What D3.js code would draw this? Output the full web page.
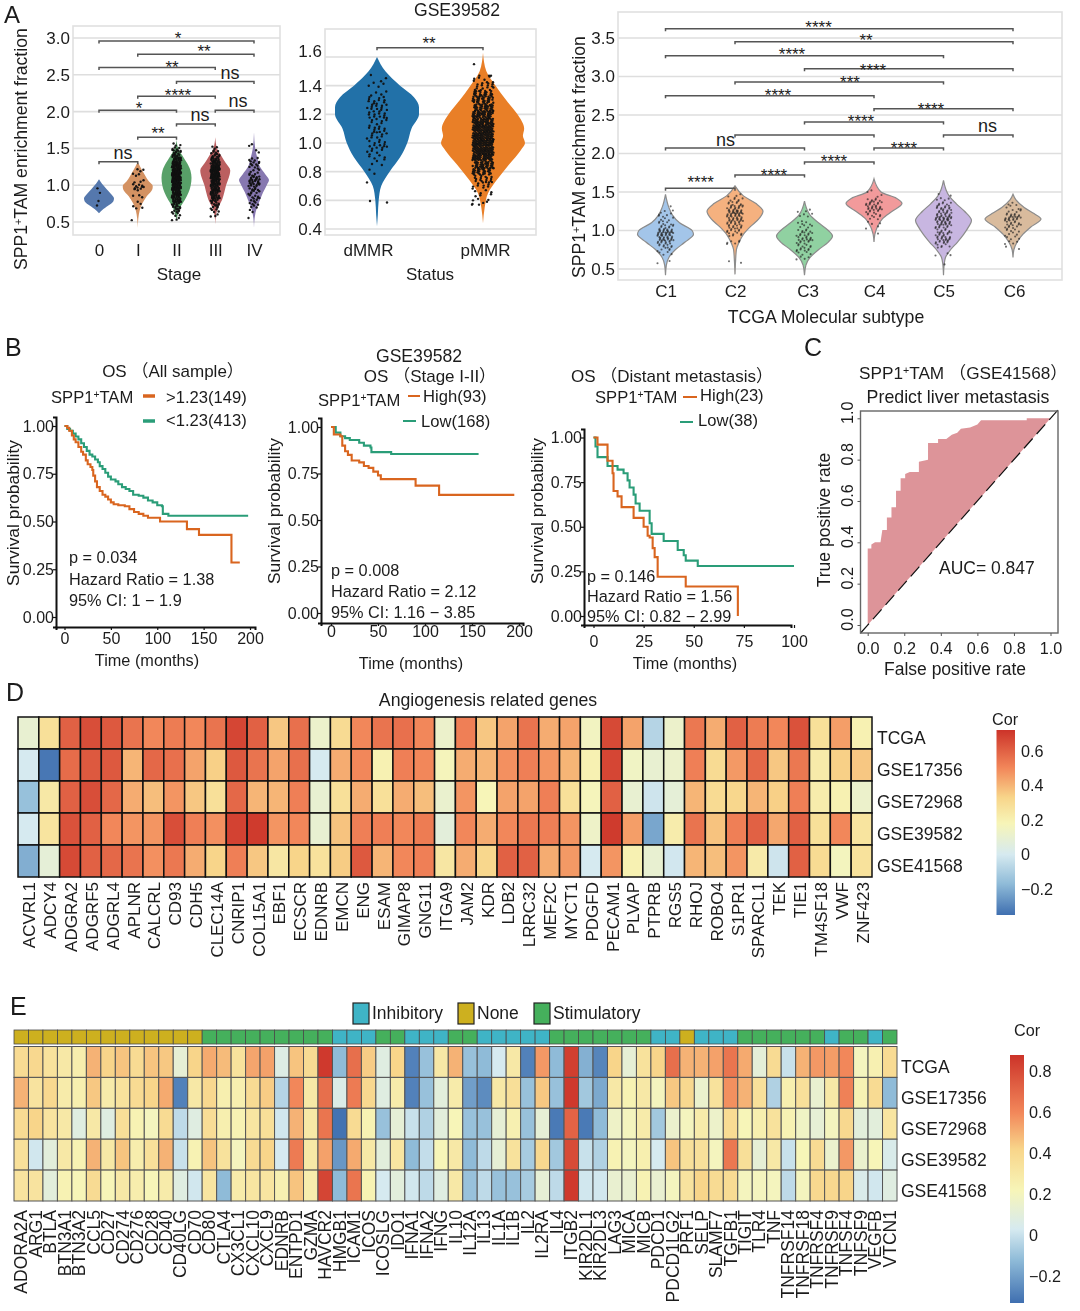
<!DOCTYPE html>
<html><head><meta charset="utf-8">
<script src="https://cdn.jsdelivr.net/npm/d3@7"></script>
<style>
html,body{margin:0;padding:0;background:#fff}
svg{display:block;filter:blur(.35px)}
text{font-family:"Liberation Sans","Noto Sans CJK SC",sans-serif;fill:#1c1c1c}
</style></head><body><svg id="c" width="1080" height="1311"></svg>
<script>
// ---------- Panel A data ----------
const stageCats=["0","I","II","III","IV"];
const stageColors=["#5578ad","#d49262","#58a068","#bb5f60","#8778b0"];
const stageProfiles=[
 [[.62,0],[.66,.2],[.72,.6],[.78,.95],[.82,1],[.88,.8],[.95,.5],[1.02,.2],[1.08,0]],
 [[.42,0],[.55,.04],[.65,.12],[.75,.3],[.85,.6],[.95,.98],[.99,1],[1.05,.75],[1.13,.5],[1.2,.3],[1.32,0]],
 [[.52,0],[.6,.08],[.7,.25],[.8,.55],[.9,.8],[1,.95],[1.1,1],[1.2,.93],[1.3,.7],[1.4,.4],[1.5,.12],[1.62,0]],
 [[.47,0],[.6,.05],[.7,.2],[.8,.45],[.9,.6],[1,.72],[1.1,.9],[1.2,1],[1.3,.7],[1.4,.4],[1.5,.12],[1.65,0]],
 [[.42,0],[.55,.04],[.7,.2],[.8,.4],[.9,.6],[1,.85],[1.07,1],[1.15,.75],[1.25,.4],[1.35,.25],[1.5,.08],[1.72,0]]];
const stageBins=[
 [[.75,1],[.8,1],[.9,1],[.95,1]],
 [[.55,1],[.7,3],[.75,2],[.85,3],[.95,6],[1,5],[1.05,3],[1.15,3],[1.2,3]],
 [[.55,3],[.6,4],[.65,6],[.7,8],[.75,10],[.8,14],[.85,16],[.9,18],[.95,20],[1,22],[1.05,24],[1.1,26],[1.15,26],[1.2,24],[1.25,20],[1.3,18],[1.35,14],[1.4,10],[1.45,8],[1.5,5],[1.55,3]],
 [[.6,3],[.65,4],[.7,5],[.75,7],[.8,10],[.85,12],[.9,14],[.95,14],[1,16],[1.05,18],[1.1,22],[1.15,24],[1.2,26],[1.25,22],[1.3,16],[1.35,12],[1.4,8],[1.45,5],[1.5,3]],
 [[.58,1],[.65,2],[.7,3],[.75,4],[.8,5],[.85,5],[.9,6],[.95,6],[1,9],[1.05,11],[1.1,9],[1.15,5],[1.2,3],[1.25,5],[1.3,6],[1.35,4],[1.45,2],[1.55,2]]];
const stageJitter=[2,6,4.5,4.5,5.5];
const stageBrackets=[[0,4,2.96,"*"],[1,4,2.78,"**"],[0,3,2.60,"**"],[2,4,2.41,"ns"],[1,3,2.21,"****"],[0,2,2.02,"*"],[3,4,2.02,"ns"],[2,3,1.83,"ns"],[1,2,1.65,"**"],[0,1,1.32,"ns"]];
const stageTicks=[.5,1,1.5,2,2.5,3];

const statusCats=["dMMR","pMMR"];
const statusColors=["#2271a8","#e97f27"];
const statusProfiles=[
 [[.42,0],[.5,.02],[.6,.04],[.7,.1],[.8,.3],[.9,.55],[1,.72],[1.1,.82],[1.2,1],[1.25,1],[1.32,.88],[1.4,.55],[1.5,.2],[1.6,0]],
 [[.44,0],[.55,.04],[.65,.12],[.75,.35],[.85,.62],[.95,.9],[1,1],[1.05,.95],[1.1,.98],[1.2,.82],[1.3,.55],[1.4,.3],[1.5,.08],[1.63,0]]];
const statusBins=[
 [[.75,1],[.8,2],[.85,3],[.9,6],[.95,8],[1,10],[1.05,9],[1.1,10],[1.15,8],[1.2,12],[1.25,12],[1.3,10],[1.35,4],[1.4,4],[1.45,3]],
 [[.6,4],[.65,7],[.7,10],[.75,16],[.8,28],[.85,36],[.9,44],[.95,50],[1,54],[1.05,52],[1.1,50],[1.15,46],[1.2,40],[1.25,34],[1.3,30],[1.35,24],[1.4,14],[1.45,6]]];
const statusOutliers=[[[.595,-7],[.585,10]],[[1.55,-9],[1.47,8],[1.47,6],[.6,-10],[.57,-11],[.57,-4],[.59,4]]];
const statusBrackets=[[0,1,1.665,"**"]];
const statusTicks=[.4,.6,.8,1,1.2,1.4,1.6];

const subtypeCats=["C1","C2","C3","C4","C5","C6"];
const subtypeColors=["#a3c5e9","#f5b17f","#90d1a1","#f29a9b","#c8b6e1","#d9bb9d"];
const subtypeProfiles=[
 [[.42,0],[.55,.03],[.65,.12],[.75,.35],[.85,.7],[.95,1],[1,.95],[1.1,.5],[1.2,.25],[1.3,.12],[1.47,0]],
 [[.43,0],[.6,.02],[.75,.05],[.85,.15],[.95,.3],[1.05,.55],[1.15,.85],[1.25,1],[1.35,.75],[1.45,.3],[1.58,0]],
 [[.42,0],[.55,.05],[.65,.2],[.75,.5],[.85,.85],[.93,1],[1,.85],[1.1,.5],[1.2,.2],[1.38,0]],
 [[.85,0],[.95,.03],[1.05,.12],[1.15,.3],[1.25,.65],[1.35,1],[1.42,.8],[1.5,.25],[1.67,0]],
 [[.42,0],[.55,.02],[.65,.07],[.75,.25],[.85,.5],[.95,.72],[1.05,.9],[1.13,1],[1.25,.75],[1.35,.45],[1.45,.2],[1.65,0]],
 [[.65,0],[.75,.03],[.85,.15],[.95,.35],[1.05,.65],[1.15,1],[1.22,.75],[1.3,.4],[1.4,.1],[1.47,0]]];
const subtypeBins=[
 [[.6,2],[.7,4],[.75,5],[.8,8],[.85,12],[.9,16],[.95,18],[1,16],[1.05,8],[1.1,6],[1.15,4],[1.2,5],[1.25,3],[1.3,1]],
 [[.85,6],[.95,7],[1,8],[1.05,10],[1.1,12],[1.15,14],[1.2,16],[1.25,18],[1.3,12],[1.35,8],[1.4,6],[1.45,3]],
 [[.65,4],[.7,4],[.75,8],[.8,6],[.85,8],[.9,10],[.95,8],[1,6],[1.05,4],[1.1,5],[1.2,4],[1.25,3]],
 [[1.05,2],[1.1,3],[1.15,3],[1.2,6],[1.25,8],[1.3,12],[1.35,10],[1.4,6],[1.45,2],[1.5,2]],
 [[.7,2],[.8,6],[.85,10],[.9,12],[.95,10],[1,8],[1.05,10],[1.1,14],[1.15,18],[1.2,12],[1.25,10],[1.3,10],[1.35,6],[1.4,4],[1.45,2]],
 [[.85,4],[.9,4],[.95,4],[1,5],[1.05,7],[1.1,8],[1.15,14],[1.2,10],[1.25,5],[1.3,3],[1.35,3]]];
const subtypeOutliers=[[],[[.6,-6],[.58,6]],[],[[.96,4]],[[.68,7],[.56,1]],[[.79,-7],[.76,6]]];
const subtypeJitter=[8,8,8,8,8,8];
const subtypeBrackets=[[0,5,3.62,"****"],[1,5,3.45,"**"],[0,4,3.27,"****"],[2,5,3.10,"****"],[1,4,2.93,"***"],[0,3,2.75,"****"],[3,5,2.58,"****"],[2,4,2.41,"****"],[1,3,2.24,""],[4,5,2.24,"ns"],[0,2,2.07,"ns"],[3,4,2.07,"****"],[2,3,1.89,"****"],[1,2,1.72,"****"],[0,1,1.55,"****"]];
const subtypeTicks=[.5,1,1.5,2,2.5,3,3.5];

// ---------- Panel B data (time, survival) ----------
const km1High=[[0,1],[3,.99],[5,.975],[8,.95],[10,.93],[12,.915],[15,.89],[18,.865],[20,.85],[23,.82],[25,.80],[28,.785],[30,.77],[31,.74],[33,.71],[35,.68],[38,.66],[41,.64],[44,.63],[47,.615],[50,.60],[53,.59],[58,.585],[65,.58],[70,.565],[75,.55],[80,.54],[85,.53],[90,.52],[103,.50],[132,.46],[145,.43],[180,.285],[189,.285]];
const km1Low=[[0,1],[3,.985],[6,.975],[9,.96],[12,.945],[15,.93],[18,.91],[21,.89],[24,.87],[27,.85],[30,.84],[33,.825],[36,.81],[38,.79],[41,.775],[44,.755],[47,.735],[50,.72],[55,.71],[58,.695],[62,.68],[66,.67],[70,.66],[74,.64],[80,.635],[85,.625],[90,.61],[95,.60],[100,.585],[105,.58],[106,.54],[111,.54],[112,.53],[198,.53]];
const km2High=[[0,1],[3,.96],[10,.95],[12,.9],[15,.87],[18,.85],[22,.82],[30,.81],[35,.79],[40,.78],[45,.76],[50,.74],[53,.72],[90,.685],[115,.635],[195,.635]];
const km2Low=[[0,1],[5,.97],[10,.95],[15,.94],[20,.93],[30,.915],[35,.90],[42,.89],[43,.865],[64,.855],[157,.855]];
const km3High=[[0,1],[2,.96],[6,.96],[7,.87],[9.5,.8],[10,.70],[12,.67],[14,.61],[20,.55],[25,.5],[27,.45],[28,.44],[29.5,.38],[30.5,.33],[32,.22],[46,.165],[72,0]];
const km3Low=[[0,1],[1,.95],[2,.89],[7,.84],[10,.84],[12,.82],[15,.80],[17,.76],[18,.72],[20,.68],[21,.63],[23,.59],[27,.59],[28,.52],[29,.46],[35,.42],[41,.42],[42,.37],[45,.34],[46,.31],[52,.28],[100,.28]];
const kmYTicks=[0,.25,.5,.75,1];

// ---------- Panel C data ----------
const rocPoints=[[0,0],[0,.37],[.02,.37],[.02,.39],[.04,.40],[.07,.40],[.08,.46],[.105,.46],[.105,.52],[.13,.52],[.13,.57],[.155,.57],[.155,.65],[.18,.65],[.18,.71],[.205,.71],[.205,.73],[.23,.74],[.28,.74],[.28,.79],[.33,.80],[.33,.88],[.385,.88],[.385,.90],[.43,.90],[.46,.92],[.49,.93],[.51,.95],[.56,.955],[.6,.97],[.62,.99],[.87,.99],[.87,1],[1,1]];
const rocTicks=[0,.2,.4,.6,.8,1];

// ---------- Panel D data ----------
const rowsD=["TCGA","GSE17356","GSE72968","GSE39582","GSE41568"];
const genesD=["ACVRL1","ADCY4","ADGRA2","ADGRF5","ADGRL4","APLNR","CALCRL","CD93","CDH5","CLEC14A","CNRIP1","COL15A1","EBF1","ECSCR","EDNRB","EMCN","ENG","ESAM","GIMAP8","GNG11","ITGA9","JAM2","KDR","LDB2","LRRC32","MEF2C","MYCT1","PDGFD","PECAM1","PLVAP","PTPRB","RGS5","RHOJ","ROBO4","S1PR1","SPARCL1","TEK","TIE1","TM4SF18","VWF","ZNF423"];
const tcgaD=[.10,.28,.6,.65,.62,.55,.5,.53,.5,.55,.67,.6,.36,.56,.12,.3,.5,.55,.56,.5,.12,.52,.36,.44,.55,.42,.44,.15,.66,.44,-.08,.12,.54,.42,.6,.53,.5,.64,.28,.45,.2];
const g17356D=[0,-.33,.57,.62,.62,.40,.58,.56,.44,.34,.62,.55,.44,.56,0,.42,.5,.2,.52,.5,.17,.42,.40,.48,.52,.47,.4,.2,.67,.14,.1,.12,.52,.3,.46,.58,.36,.54,.23,.34,.36];
const g72968D=[-.15,.24,.6,.65,.58,.42,.38,.47,.36,.28,.58,.40,.40,.52,.1,.28,.42,.28,.42,.38,.11,.47,.18,.44,.44,.52,.28,.17,.6,.1,-.02,.08,.4,.3,.32,.4,.34,.52,.22,.2,.12];
const g39582D=[0,.26,.64,.6,.5,.47,.47,.65,.52,.48,.68,.7,.47,.5,.1,.37,.52,.52,.5,.53,.07,.5,.42,.5,.54,.52,.47,.13,.7,.45,-.22,.22,.55,.37,.52,.6,.43,.6,.28,.5,.26];
const g41568D=[-.2,.08,.66,.6,.58,.55,.48,.54,.42,.33,.52,.36,.25,.33,.27,.35,.62,.4,.5,.52,.25,.42,.32,.6,.6,.42,.46,0,.47,.2,.1,-.01,.4,.38,.47,.23,-.02,.6,.3,.16,.27];
const cbTicksD=[-.2,0,.2,.4,.6];

// ---------- Panel E data ----------
const rowsE=rowsD;
const genesE=["ADORA2A","ARG1","BTLA","BTN3A1","BTN3A2","CCL5","CD27","CD274","CD276","CD28","CD40","CD40LG","CD70","CD80","CTLA4","CX3CL1","CXCL10","CXCL9","EDNRB","ENTPD1","GZMA","HAVCR2","HMGB1","ICAM1","ICOS","ICOSLG","IDO1","IFNA1","IFNA2","IFNG","IL10","IL12A","IL13","IL1A","IL1B","IL2","IL2RA","IL4","ITGB2","KIR2DL1","KIR2DL3","LAG3","MICA","MICB","PDCD1","PDCD1LG2","PRF1","SELP","SLAMF7","TGFB1","TIGIT","TLR4","TNF","TNFRSF14","TNFRSF18","TNFRSF4","TNFRSF9","TNFSF4","TNFSF9","VEGFB","VTCN1"];
const typeNames=["Inhibitory","None","Stimulatory"];
const typeColors={Inhibitory:"#3fb4c6",None:"#cdb01f",Stimulatory:"#45b05c"};
const typeRuns=[["None",13],["Stimulatory",9],["Inhibitory",3],["Stimulatory",2],["Inhibitory",3],["Stimulatory",2],["Inhibitory",5],["Stimulatory",7],["Inhibitory",2],["None",1],["Inhibitory",3],["Stimulatory",6],["Inhibitory",1],["Stimulatory",2],["Inhibitory",1],["Stimulatory",1]];
const tcgaE=[.38,.4,.34,.3,.27,.5,.42,.46,.38,.46,.45,.12,.42,.52,.48,.34,.53,.54,.07,.46,.38,.86,-.12,.68,.44,.08,.42,-.28,-.1,.3,.5,-.1,-.12,.03,.3,-.28,.56,-.12,.84,-.15,-.27,.42,.12,.34,.42,.68,.5,.5,.54,.66,.52,.11,.38,0,.5,.56,.55,.6,.2,.25,.38];
const g17356E=[.5,.33,.4,.28,.26,.45,.28,.34,.38,.42,.52,-.28,.3,.4,.26,.26,.38,.44,-.04,.6,.3,.68,.06,.64,.4,.08,.28,-.28,-.1,.1,.28,-.2,-.25,.3,.36,-.1,.45,-.1,.86,-.08,-.17,.3,.24,.3,.2,.45,.4,.15,.34,.58,.5,.35,-.05,.26,.35,.14,.3,.62,.24,.38,-.12];
const g72968E=[.38,.42,.33,.3,.08,.3,.08,.36,.24,.2,.38,-.02,.08,.37,.26,.24,.32,.36,.02,.5,.3,.66,-.32,.38,.24,-.1,.12,0,-.05,.1,.22,-.1,-.1,.12,.25,-.1,.12,-.3,.72,-.3,-.12,.17,.2,.28,-.08,.15,.2,.28,.16,.38,.22,.26,.34,.24,.18,.12,.2,.4,.1,.1,.32];
const g39582E=[.35,.02,.1,.3,.24,.5,.3,.46,.27,.35,.5,0,.24,.46,.34,.2,.38,.42,.03,.64,.3,.54,-.22,.52,.3,.1,.32,-.12,-.01,.22,.3,-.12,-.02,.12,.34,-.07,.4,-.08,.8,0,-.05,.24,.2,.26,.03,.46,.35,.35,.2,.65,.36,.12,.3,0,.22,.38,.15,.56,.15,.22,.05];
const g41568E=[.33,.33,.1,.24,.22,.38,.22,.3,.27,.22,.28,.08,.02,.32,-.12,.28,.32,.32,.25,.46,.27,.82,-.12,.66,.24,.03,.1,.02,-.02,.08,.3,-.1,-.02,-.1,-.1,-.07,.12,-.02,.86,.02,.02,.14,.14,.24,.14,.2,.33,.42,.38,.38,.2,.2,.2,-.02,.2,.4,.4,.42,.05,.02,.08];
const cbTicksE=[-.2,0,.2,.4,.6,.8];
const matrixD=[tcgaD,g17356D,g72968D,g39582D,g41568D];
const matrixE=[tcgaE,g17356E,g72968E,g39582E,g41568E];

// ---------- drawing ----------
const svg=d3.select("#c");
const FS=17;
function txt(x,y,s,o={}){
  const t=svg.append("text").attr("x",x).attr("y",y).text(s).attr("font-size",o.fs||FS)
    .attr("text-anchor",o.a||"start").attr("dominant-baseline",o.b||"auto");
  if(o.rot!==undefined)t.attr("transform",`rotate(${o.rot} ${x} ${y})`);
  return t;
}
function sup(x,y,pre,post,o={}){
  const t=txt(x,y,"",o);
  t.append("tspan").text(pre);
  t.append("tspan").text("+").attr("dy",-5).attr("font-size",(o.fs||FS)*.62);
  t.append("tspan").text(post).attr("dy",5);
  return t;
}
// Spreads the points counted in each value bin across the strip width.
function swarm(bins,binW,jit){
  const out=[];
  bins.forEach(([v,n],b)=>{for(let k=0;k<n;k++){
    const f1=(k*.7548776662+b*.371)%1,f2=(k*.5698402910+b*.213)%1;
    out.push([v+binW*(f2-.5),jit*(2*f1-1)]);
  }});
  return out;
}
function violinPanel(p){
  const y=d3.scaleLinear().domain(p.yd).range(p.yr);
  const x=d3.scalePoint().domain(p.cats).range(p.xr);
  const g=svg.append("g");
  g.append("rect").attr("x",p.box[0]).attr("y",p.box[1]).attr("width",p.box[2]-p.box[0]).attr("height",p.box[3]-p.box[1])
    .attr("fill","#fff").attr("stroke","#e0e0e0").attr("stroke-width",1.6);
  g.selectAll("line.g").data(p.ticks).join("line").attr("x1",p.box[0]).attr("x2",p.box[2]).attr("y1",y).attr("y2",y)
    .attr("stroke","#dedede").attr("stroke-width",1.6);
  const w=d3.scaleLinear().domain([0,1]).range([0,p.hw]);
  p.cats.forEach((c,i)=>{
    const cx=x(c);
    const area=d3.area().y(d=>y(d[0])).x0(d=>cx-w(d[1])).x1(d=>cx+w(d[1])).curve(d3.curveMonotoneY);
    g.append("path").attr("d",area(p.profiles[i])).attr("fill",p.colors[i])
      .attr("stroke",p.stroke||"none").attr("stroke-width",1.2);
    const pts=swarm(p.bins[i],.05,p.jitter[i]).concat(p.outliers?p.outliers[i]:[]);
    g.selectAll(null).data(pts).join("circle").attr("cx",d=>cx+d[1]).attr("cy",d=>y(d[0]))
      .attr("r",p.r).attr("fill",p.dot).attr("fill-opacity",p.dotOp);
  });
  p.brackets.forEach((b,i)=>{
    const x0=x(p.cats[b[0]]),x1=x(p.cats[b[1]]),yy=y(b[2]);
    g.append("path").attr("d",`M${x0},${yy+2.5}V${yy}H${x1}V${yy+2.5}`).attr("fill","none").attr("stroke","#555").attr("stroke-width",1.5);
    if(b[3]){
      const [lx,ly]=p.labels[i];
      if(b[3]==="ns")txt(lx,ly+5,"ns",{a:"middle",fs:18});
      else txt(lx,ly+10,b[3],{a:"middle",fs:17});
    }
  });
  const ya=d3.axisLeft(y).tickValues(p.ticks).tickSize(0).tickPadding(p.pad).tickFormat(d3.format(".1f"));
  const ag=svg.append("g").attr("transform",`translate(${p.box[0]},0)`).call(ya);
  ag.select(".domain").remove();
  ag.selectAll("text").attr("font-size",FS);
  if(p.ylabShift)ag.selectAll("text").attr("dy",d=>p.ylabShift(d));
  const xa=d3.axisBottom(x).tickSize(0).tickPadding(p.xpad);
  const xg=svg.append("g").attr("transform",`translate(0,${p.box[3]})`).call(xa);
  xg.select(".domain").remove();
  xg.selectAll("text").attr("font-size",FS).attr("dx",d=>p.xlabShift?p.xlabShift(d):0);
}
violinPanel({yd:[.5,3],yr:[222,38],xr:[99,254],cats:stageCats,box:[73,26,280,235],ticks:stageTicks,profiles:stageProfiles,colors:stageColors,bins:stageBins,jitter:stageJitter,hw:15,r:1.2,dot:"#111",dotOp:.95,brackets:stageBrackets,pad:3,xpad:9,
 labels:[[178,34],[204,47],[172,63],[230,74],[178,91],[139,104],[238,102],[200,116],[158,129],[123,154]]});
violinPanel({yd:[.4,1.6],yr:[229,57],xr:[377,483],cats:statusCats,box:[325,29,536,235],ticks:statusTicks,profiles:statusProfiles,colors:statusColors,bins:statusBins,jitter:[10,10.5],outliers:statusOutliers,hw:42,r:1.2,dot:"#111",dotOp:.95,brackets:statusBrackets,pad:3,xpad:9,
 labels:[[429,39]],ylabShift:d=>d===1.6?"-0.05em":"0.32em",xlabShift:d=>d==="dMMR"?-9:2});
violinPanel({yd:[.5,3.5],yr:[269,38],xr:[665.5,1013],cats:subtypeCats,box:[618,12,1062,280],ticks:subtypeTicks,profiles:subtypeProfiles,colors:subtypeColors,bins:subtypeBins,jitter:subtypeJitter,outliers:subtypeOutliers,hw:28,r:1.05,dot:"#222",dotOp:.65,stroke:"#8c8c8c",brackets:subtypeBrackets,pad:3,xpad:5,
 labels:[[818.6,23],[866,36],[792,50],[873,66],[850,78],[778,90.5],[931,104.5],[861,116.5],[0,0],[987.5,127],[725.5,141],[904,144],[834,157],[774,171],[700.7,178]],xlabShift:d=>d==="C3"?3:(d==="C6"?1:0)});
sup(27,270,"SPP1","TAM enrichment fraction",{rot:-90,fs:17.6});
sup(585,278,"SPP1","TAM enrichment fraction",{rot:-90,fs:17.6});
txt(179,280,"Stage",{a:"middle",fs:17});
txt(430,280,"Status",{a:"middle",fs:17});
txt(457,16,"GSE39582",{a:"middle",fs:17.6});
txt(826,323,"TCGA Molecular subtype",{a:"middle",fs:17.7});
txt(4,23,"A",{fs:24});txt(5,356,"B",{fs:25});txt(804,356,"C",{fs:25});txt(6,701,"D",{fs:25});txt(10,1015,"E",{fs:25});

const ORANGE="#d9651f",GREEN="#2a9d78";
function km(p){
  const x=d3.scaleLinear().domain([0,p.xmax]).range(p.xr);
  const y=d3.scaleLinear().domain([0,1]).range(p.yr);
  const xA=x.copy().domain([x.invert(p.ax[0]),x.invert(p.ax[1])]).range(p.ax);
  const yA=y.copy().domain([y.invert(p.ay[0]),y.invert(p.ay[1])]).range(p.ay);
  const line=d3.line().x(d=>x(d[0])).y(d=>y(d[1])).curve(d3.curveStepAfter);
  [[p.low,GREEN],[p.high,ORANGE]].forEach(([d,c])=>{
    svg.append("path").attr("d",line(d)).attr("fill","none").attr("stroke",c).attr("stroke-width",2.1);
  });
  const xg=svg.append("g").attr("transform",`translate(0,${p.ay[0]})`).call(d3.axisBottom(xA).tickValues(p.xt).tickSize(3).tickPadding(p.xpad).tickFormat(d3.format("d")));
  const yg=svg.append("g").attr("transform",`translate(${p.ax[0]},0)`).call(d3.axisLeft(yA).tickValues(kmYTicks).tickSize(3).tickPadding(-1).tickFormat(d3.format(".2f")));
  [xg,yg].forEach(g=>{g.selectAll("text").attr("font-size",16);g.select(".domain").attr("stroke-width",2).attr("stroke","#111");g.selectAll("line").attr("stroke","#111").attr("stroke-width",1.2)});
}
km({high:km1High,low:km1Low,xmax:200,xr:[64.5,250],yr:[617,426],ax:[56,255],ay:[627,417],xt:[0,50,100,150,200],xpad:3});
km({high:km2High,low:km2Low,xmax:200,xr:[331,519],yr:[613,427],ax:[321,523],ay:[623,418],xt:[0,50,100,150,200],xpad:0});
km({high:km3High,low:km3Low,xmax:100,xr:[593.5,794],yr:[616,437.5],ax:[584,791],ay:[625,429],xt:[0,25,50,75,100],xpad:8});

const T={fs:16.6};
txt(173,377,"OS （All sample）",{a:"middle",fs:17});
sup(51,403,"SPP1","TAM",T);
txt(166,403,">1.23(149)",T);txt(166,426,"<1.23(413)",T);
txt(419,362,"GSE39582",{a:"middle",fs:17.6});
txt(430,382,"OS （Stage I-II）",{a:"middle",fs:17});
sup(318,406,"SPP1","TAM",T);
txt(423,402,"High(93)",T);txt(421,427,"Low(168)",T);
txt(672,382,"OS （Distant metastasis）",{a:"middle",fs:17});
sup(595,403,"SPP1","TAM",T);
txt(700,401,"High(23)",T);txt(698,426,"Low(38)",T);
[[143,155,396,ORANGE,3.5],[143,155,421,GREEN,3.5],[408,420,396,ORANGE,2],[403,416,421,GREEN,2],[683,697,397,ORANGE,2],[680,693,422,GREEN,2]].forEach(d=>{
  svg.append("line").attr("x1",d[0]).attr("x2",d[1]).attr("y1",d[2]).attr("y2",d[2]).attr("stroke",d[3]).attr("stroke-width",d[4]);
});
[[69,563,"p = 0.034"],[69,585,"Hazard Ratio = 1.38"],[69,606,"95% CI: 1 − 1.9"],
 [331,576,"p = 0.008"],[331,597,"Hazard Ratio = 2.12"],[331,618,"95% CI: 1.16 − 3.85"],
 [587,582,"p = 0.146"],[587,602,"Hazard Ratio = 1.56"],[587,622,"95% CI: 0.82 − 2.99"]].forEach(d=>txt(d[0],d[1],d[2],{fs:16.3}));
[[19,513,"Survival probability"],[280,511,"Survival probability"],[543,511,"Survival probability"]].forEach(d=>txt(d[0],d[1],d[2],{fs:17.4,a:"middle",rot:-90}));
[[147,666],[411,669],[685,669]].forEach(d=>txt(d[0],d[1],"Time (months)",{fs:16.3,a:"middle"}));

// ROC
(function(){
  const x=d3.scaleLinear().domain([0,1]).range([867.7,1050.5]);
  const y=d3.scaleLinear().domain([0,1]).range([625,418.3]);
  const poly=rocPoints.concat([[0,0]]);
  svg.append("path").attr("d",d3.line().x(d=>x(d[0])).y(d=>y(d[1]))(poly)).attr("fill","#dd9499");
  svg.append("line").attr("x1",x(-.04)).attr("y1",y(-.04)).attr("x2",x(1.04)).attr("y2",y(1.04)).attr("stroke","#111").attr("stroke-width",1.2).attr("stroke-dasharray","13 6");
  svg.append("rect").attr("x",860.5).attr("y",411).attr("width",197.5).attr("height",222).attr("fill","none").attr("stroke","#666").attr("stroke-width",1.4);
  const xg=svg.append("g").attr("transform","translate(0,633)").call(d3.axisBottom(x).tickValues(rocTicks).tickSize(3).tickPadding(6).tickFormat(d3.format(".1f")));
  const yg=svg.append("g").attr("transform","translate(860.5,0)").call(d3.axisLeft(y).tickValues(rocTicks).tickSize(3).tickFormat(d3.format(".1f")));
  [xg,yg].forEach(g=>{g.select(".domain").remove();g.selectAll("line").attr("stroke","#555");g.selectAll("text").attr("font-size",16.2)});
  yg.selectAll("text").attr("transform","rotate(-90)").attr("x",6).attr("y",-8).attr("dy",0).attr("text-anchor","middle");
  sup(859,379,"SPP1","TAM （GSE41568）",{fs:17.2});
  txt(958,403,"Predict liver metastasis",{a:"middle",fs:17.8});
  txt(939,574,"AUC= 0.847",{fs:17.5});
  txt(955,675,"False positive rate",{a:"middle",fs:17.5});
  txt(830,520,"True positive rate",{a:"middle",fs:17.5,rot:-90});
})();

// heatmaps
function heat(p){
  const x=d3.scaleBand().domain(p.genes).range(p.xr);
  const y=d3.scaleBand().domain(p.rows).range(p.yr);
  const color=d3.scaleLinear().domain(p.cd).range(p.cr);
  const cells=[];
  p.matrix.forEach((r,i)=>r.forEach((v,j)=>cells.push({r:p.rows[i],g:p.genes[j],v})));
  svg.append("g").selectAll("rect").data(cells).join("rect")
    .attr("x",d=>x(d.g)).attr("y",d=>y(d.r)).attr("width",x.bandwidth()).attr("height",y.bandwidth())
    .attr("fill",d=>color(d.v)).attr("stroke",p.stroke).attr("stroke-width",p.sw);
  p.rows.forEach(r=>txt(p.xr[1]+p.rowPad,y(r)+y.bandwidth()/2+p.rowDy,r,{fs:p.rowFs}));
  const gx=svg.append("g").attr("transform",`translate(0,${p.labY})`);
  gx.selectAll("text").data(p.genes).join("text")
    .attr("transform",d=>`translate(${x(d)+x.bandwidth()/2+p.labDx},0) rotate(-90)`)
    .attr("text-anchor","end").attr("font-size",p.labFs).text(d=>d);
  const id=p.id;
  const cy=d3.scaleLinear().domain([p.cd[0],p.cd[p.cd.length-1]]).range([p.cb[3],p.cb[2]]);
  const grad=svg.append("defs").append("linearGradient").attr("id",id).attr("x1",0).attr("x2",0).attr("y1",1).attr("y2",0);
  p.cd.forEach((v,i)=>grad.append("stop").attr("offset",(v-p.cd[0])/(p.cd[p.cd.length-1]-p.cd[0])).attr("stop-color",p.cr[i]));
  svg.append("rect").attr("x",p.cb[0]).attr("y",p.cb[2]).attr("width",p.cb[1]-p.cb[0]).attr("height",p.cb[3]-p.cb[2]).attr("fill",`url(#${id})`);
  p.cbt.forEach(v=>txt(p.cb[1]+p.cbPad,cy(v)+6,v===0?"0":d3.format(".1f")(v).replace("-","−"),{fs:16.2,a:"start"}));
  return x;
}
heat({id:"gd",genes:genesD,rows:rowsD,matrix:matrixD,xr:[18,872],yr:[717,877],stroke:"#111",sw:1.5,rowPad:5,rowDy:11,rowFs:17.5,labY:882,labFs:17,labDx:7,
 cd:[-.35,-.17,0,.18,.33,.5,.72],cr:["#3f6fb0","#8fbbd8","#d6eaf0","#f7f5b8","#f8d58a","#f2875a","#cc3329"],cb:[996.5,1015,730,915],cbt:cbTicksD,cbPad:6});
txt(992,725,"Cor",{fs:16.2});
txt(488,706,"Angiogenesis related genes",{a:"middle",fs:17.7});
const xE=heat({id:"ge",genes:genesE,rows:rowsE,matrix:matrixE,xr:[14,897],yr:[1046.5,1201],stroke:"#555",sw:1,rowPad:4,rowDy:11,rowFs:17.5,labY:1210,labFs:17.5,labDx:6,
 cd:[-.33,-.12,.03,.22,.42,.6,.88],cr:["#3f6fb0","#8fbbd8","#d6eaf0","#f7f5b8","#f8d58a","#f2875a","#cc3329"],cb:[1010,1024,1055,1303],cbt:cbTicksE,cbPad:5});
txt(1014,1036,"Cor",{fs:16.2});
const types=typeRuns.flatMap(([t,n])=>d3.range(n).map(()=>t));
svg.append("g").selectAll("rect").data(genesE).join("rect")
  .attr("x",d=>xE(d)).attr("y",1030).attr("width",xE.bandwidth()).attr("height",14)
  .attr("fill",(d,i)=>typeColors[types[i]]).attr("stroke","#4a4a4a").attr("stroke-width",.8);
const legendX=d3.scaleOrdinal().domain(typeNames).range([353,458,534]);
typeNames.forEach(t=>{
  svg.append("rect").attr("x",legendX(t)).attr("y",1003).attr("width",16).attr("height",21).attr("fill",typeColors[t]).attr("stroke","#222").attr("stroke-width",1.2);
  txt(legendX(t)+19,1019,t,{fs:17.5});
});
</script></body></html>
